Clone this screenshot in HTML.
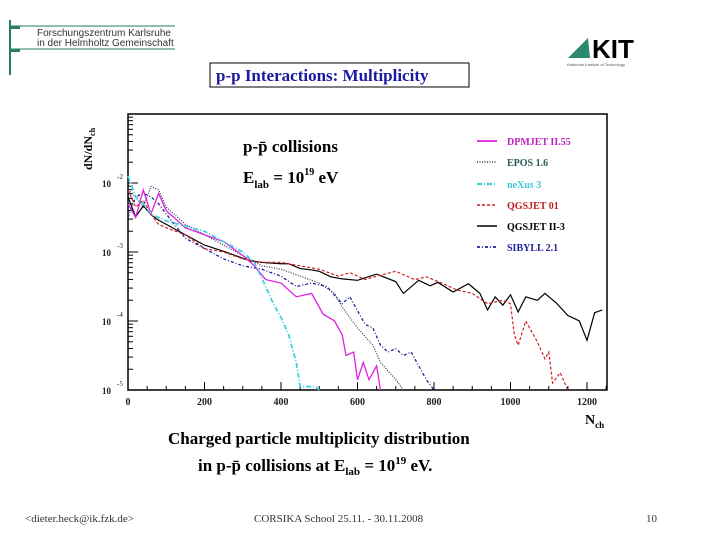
<!DOCTYPE html>
<html><head><meta charset="utf-8"><style>
body{margin:0;background:#fff;width:720px;height:540px;overflow:hidden;font-family:"Liberation Serif",serif}
</style></head><body>
<svg width="720" height="540" viewBox="0 0 720 540" xmlns="http://www.w3.org/2000/svg">
<g>
<line x1="10" y1="20" x2="10" y2="75" stroke="#2a7a6a" stroke-width="2"/>
<line x1="10" y1="26" x2="175" y2="26" stroke="#2a7a6a" stroke-width="1"/>
<line x1="10" y1="49" x2="175" y2="49" stroke="#2a7a6a" stroke-width="1"/>
<rect x="10" y="26" width="10" height="3" fill="#2a7a6a"/><rect x="10" y="49" width="10" height="3" fill="#2a7a6a"/>
<text x="37" y="36" font-family="Liberation Sans,sans-serif" font-size="10" fill="#333">Forschungszentrum Karlsruhe</text>
<text x="37" y="46" font-family="Liberation Sans,sans-serif" font-size="10" fill="#333">in der Helmholtz Gemeinschaft</text>
</g>
<g>
<path d="M568 58 L588 38 L590 58 Z" fill="#2a8a6e"/>
<text x="592" y="58" font-family="Liberation Sans,sans-serif" font-weight="bold" font-size="26" fill="#000">KIT</text>
<text x="567" y="66" font-family="Liberation Sans,sans-serif" font-size="4" fill="#555">Karlsruhe Institute of Technology</text>
</g>
<rect x="210" y="63" width="259" height="24" fill="none" stroke="#000"/>
<text x="216" y="81" font-size="17" font-weight="bold" fill="#1a1aa0">p-p Interactions:  Multiplicity</text>
<g id="chart"></g>
<text x="168" y="444" font-size="17" font-weight="bold">Charged particle multiplicity distribution</text>
<text x="198" y="471" font-size="17" font-weight="bold">in p-p̄ collisions at E<tspan font-size="11" dy="4">lab</tspan><tspan dy="-4"> = 10</tspan><tspan font-size="11" dy="-7">19</tspan><tspan dy="7"> eV.</tspan></text>
<text x="25" y="522" font-size="11" fill="#333">&lt;dieter.heck@ik.fzk.de&gt;</text>
<text x="254" y="522" font-size="11" fill="#333">CORSIKA School 25.11. - 30.11.2008</text>
<text x="646" y="522" font-size="11" fill="#333">10</text>
</svg>
<script>
const xTicks=[0,200,400,600,800,1000,1200];
const yDecades=[-2,-3,-4,-5];
const seriesNames=["DPMJET II.55","EPOS 1.6","neXus 3","QGSJET 01","QGSJET II-3","SIBYLL 2.1"];
const dpmX=[0,20,40,60,80,100,150,200,250,300,330,360,400,440,480,510,540,560,570,590,600,615,630,650,660];
const dpmY=[-2.3,-2.5,-2.1,-2.45,-2.15,-2.4,-2.65,-2.75,-2.85,-3.05,-3.2,-3.4,-3.45,-3.65,-3.6,-3.9,-4.0,-4.2,-4.5,-4.45,-4.85,-4.6,-4.85,-4.65,-5.0];
const eposX=[0,20,40,60,80,100,150,200,250,300,350,400,450,500,540,560,600,640,660,700,720];
const eposY=[-2.1,-2.2,-2.35,-2.05,-2.1,-2.35,-2.6,-2.75,-2.9,-3.05,-3.2,-3.25,-3.35,-3.45,-3.6,-3.8,-4.1,-4.35,-4.6,-4.85,-5.0];
const nexX=[0,20,40,60,100,200,250,300,330,360,380,400,420,440,450,470,490,500];
const nexY=[-1.9,-2.2,-2.3,-2.45,-2.55,-2.7,-2.85,-3.0,-3.15,-3.5,-3.75,-3.95,-4.2,-4.6,-4.95,-4.95,-4.95,-5.05];
const q01X=[0,20,40,60,80,100,150,200,250,300,350,400,450,500,550,580,620,650,700,750,780,820,860,900,940,980,1000,1010,1020,1040,1070,1090,1100,1110,1130,1150];
const q01Y=[-2.1,-2.35,-2.25,-2.45,-2.6,-2.65,-2.75,-2.95,-3.0,-3.1,-3.15,-3.15,-3.2,-3.25,-3.35,-3.3,-3.4,-3.35,-3.28,-3.4,-3.36,-3.45,-3.55,-3.6,-3.75,-3.7,-3.75,-4.2,-4.35,-4.0,-4.3,-4.55,-4.45,-4.9,-4.75,-5.0];
const q2X=[0,20,40,60,80,100,150,200,250,300,320,350,400,420,450,480,500,530,560,600,650,700,720,760,790,810,850,890,920,940,960,980,1000,1020,1040,1070,1090,1120,1150,1180,1200,1220,1240];
const q2Y=[-2.2,-2.49,-2.33,-2.46,-2.54,-2.6,-2.75,-2.9,-2.99,-3.09,-3.13,-3.15,-3.17,-3.17,-3.24,-3.26,-3.28,-3.36,-3.39,-3.41,-3.32,-3.43,-3.6,-3.41,-3.49,-3.44,-3.58,-3.46,-3.6,-3.84,-3.65,-3.77,-3.62,-3.87,-3.65,-3.7,-3.6,-3.74,-3.92,-4.0,-4.28,-3.88,-3.84];
const sibX=[0,20,40,60,80,100,150,200,250,300,350,400,440,480,520,560,580,600,620,640,660,680,700,720,740,760,780,800];
const sibY=[-2.5,-2.2,-2.15,-2.2,-2.3,-2.45,-2.8,-2.95,-3.1,-3.2,-3.25,-3.35,-3.5,-3.45,-3.5,-3.75,-3.65,-3.85,-4.05,-4.1,-4.35,-4.45,-4.4,-4.5,-4.45,-4.65,-4.85,-5.0];

const NS="http://www.w3.org/2000/svg";
const X0=128,Y0=390,L=128,R=607,T=114;
const xs=v=>X0+v*0.3825;
const ys=lg=>183-(lg+2)*69;
const g=document.getElementById('chart');
function mk(t,a){const e=document.createElementNS(NS,t);for(const k in a)e.setAttribute(k,a[k]);g.appendChild(e);return e;}
const frame=mk('rect',{x:L,y:T,width:R-L,height:Y0-T,fill:'none',stroke:'#000','stroke-width':1.5});


xTicks.forEach(v=>{
  const t=mk('text',{x:xs(v),y:405,'font-size':10,'font-weight':'bold','text-anchor':'middle',fill:'#222'});
  t.textContent=v;
  
  
});
for(let v=0;v<=1250;v+=50){mk('line',{x1:xs(v),y1:Y0,x2:xs(v),y2:Y0-(v%200===0?8:4),stroke:'#000'});}
yDecades.forEach(d=>{
  const y=ys(d);
  const t=mk('text',{x:102,y:y+4,'font-size':9,'font-weight':'bold',fill:'#222'});
  t.textContent='10';
  
  
  const s=mk('text',{x:117,y:y-4,'font-size':7,fill:'#222'});s.textContent=String(d);
  mk('line',{x1:L,y1:y,x2:L+10,y2:y,stroke:'#000'});
  for(let k=2;k<10;k++){const yy=ys(d-1+Math.log10(k));if(yy>T&&yy<Y0)mk('line',{x1:L,y1:yy,x2:L+5,y2:yy,stroke:'#000'});}
});
for(let k=2;k<10;k++){const yy=ys(-2+Math.log10(k));if(yy>T)mk('line',{x1:L,y1:yy,x2:L+5,y2:yy,stroke:'#000'});}
const yl=mk('text',{x:0,y:0,'font-size':12,'font-weight':'bold',transform:'translate(92,170) rotate(-90)'});
yl.innerHTML='dN/dN<tspan font-size="8" dy="3">ch</tspan>';


const xl=mk('text',{x:585,y:424,'font-size':14,'font-weight':'bold'});
xl.innerHTML='N<tspan font-size="9" dy="4">ch</tspan>';


const a1=mk('text',{x:243,y:152,'font-size':17,'font-weight':'bold'});a1.textContent='p-p̄ collisions';


const a2=mk('text',{x:243,y:183,'font-size':17,'font-weight':'bold'});
a2.innerHTML='E<tspan font-size="11" dy="5">lab</tspan><tspan dy="-5"> = 10</tspan><tspan font-size="10" dy="-8">19</tspan><tspan dy="8"> eV</tspan>';


const styles=[
 {c:'#e020e0',d:'',w:1.3},{c:'#335',d:'1,1.5',w:1.2},{c:'#40d0e0',d:'5,2,1,2',w:1.8},
 {c:'#d02020',d:'3,2',w:1.2},{c:'#000',d:'',w:1.2},{c:'#2020a0',d:'3,2,1,2',w:1.3}];
const legendColors=['#c020c0','#2a5a55','#40c8d8','#c02020','#000','#2020a0'];
const data=[[dpmX,dpmY],[eposX,eposY],[nexX,nexY],[q01X,q01Y],[q2X,q2Y],[sibX,sibY]];
const order=[4,3,1,5,0,2];
order.forEach(i=>{
  const [X,Y]=data[i];
  const p=mk('polyline',{points:X.map((v,j)=>xs(v)+','+Math.min(Y0,ys(Y[j]))).join(' '),fill:'none',stroke:styles[i].c,'stroke-width':styles[i].w,'stroke-dasharray':styles[i].d});
  
  
});
const ly=[141,162,184,205,226,247];
seriesNames.forEach((n,i)=>{
  const l=mk('line',{x1:477,y1:ly[i],x2:497,y2:ly[i],stroke:styles[i].c,'stroke-width':styles[i].w+0.4,'stroke-dasharray':styles[i].d});
  
  
  const t=mk('text',{x:507,y:ly[i]+4,'font-size':10,'font-weight':'bold',fill:legendColors[i]});
  t.textContent=n;
  
  
});
</script>
</body></html>
